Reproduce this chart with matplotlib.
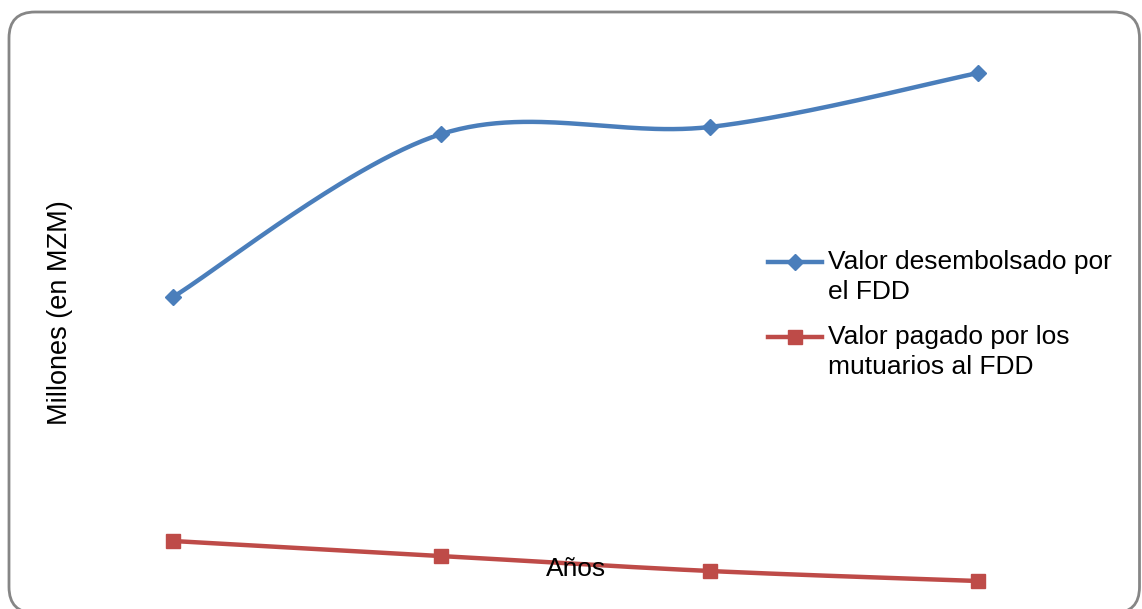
import numpy as np
import matplotlib
matplotlib.use("Agg")
import matplotlib.pyplot as plt
from matplotlib.lines import Line2D
from matplotlib.patches import FancyBboxPatch

plt.rcParams['font.family'] = ['Liberation Sans', 'DejaVu Sans']

# Data (millions of MZM) for four consecutive years
years = [1, 2, 3, 4]
desembolsado = [303, 466, 473, 527]
pagado = [59, 44, 29, 19]

series_labels = ["Valor desembolsado por\nel FDD", "Valor pagado por los\nmutuarios al FDD"]
blue = "#4A7EBB"
red = "#BE4B48"


def smooth(xs, ys, n=60):
    """Catmull-Rom style cubic Bezier smoothing through the points."""
    p = np.column_stack([xs, ys]).astype(float)
    ext = np.vstack([p[0], p, p[-1]])
    out = []
    t = np.linspace(0, 1, n)[:, None]
    for i in range(len(p) - 1):
        p0, p1, p2, p3 = ext[i], ext[i + 1], ext[i + 2], ext[i + 3]
        c1 = p1 + (p2 - p0) / 6.0
        c2 = p2 - (p3 - p1) / 6.0
        seg = ((1 - t) ** 3) * p1 + 3 * ((1 - t) ** 2) * t * c1 + 3 * (1 - t) * t ** 2 * c2 + t ** 3 * p2
        out.append(seg if i == 0 else seg[1:])
    out = np.vstack(out)
    return out[:, 0], out[:, 1]


W, H = 1142, 609
fig = plt.figure(figsize=(W / 100, H / 100), dpi=100)

# Rounded chart frame (inches)
frame = FancyBboxPatch((0.09, -0.04), 11.305, 6.09 - 0.12 + 0.04,
                       boxstyle="round,pad=0,rounding_size=0.26",
                       transform=fig.dpi_scale_trans, facecolor="none",
                       edgecolor="#868686", linewidth=2.0, zorder=-1)
fig.patches.append(frame)

ax = fig.add_axes([173 / W, 0.0, (978 - 173) / W, 1.0])
ax.set_xlim(years[0], years[-1])
ax.set_ylim(-9, 600)
ax.axis("off")

LW = 3.2
sx, sy = smooth(years, desembolsado)
ax.plot(sx, sy, color=blue, lw=LW, clip_on=False, solid_capstyle="round")
ax.plot(years, desembolsado, linestyle="none", marker="D", markersize=8.5,
        color=blue, clip_on=False)

rx, ry = smooth(years, pagado)
ax.plot(rx, ry, color=red, lw=LW, clip_on=False, solid_capstyle="round")
ax.plot(years, pagado, linestyle="none", marker="s", markersize=9.5,
        color=red, clip_on=False)

# Axis titles
fig.text(60 / W, 1 - 313 / H, "Millones (en MZM)", rotation=90, fontsize=19.5,
         ha="center", va="center")
fig.text(576 / W, 1 - 569 / H, "Años", fontsize=19, ha="center", va="center")

# Legend
entries = [(blue, "D", 8.5, 262), (red, "s", 9.5, 337)]
for (col, mk, ms, yy), lab in zip(entries, series_labels):
    yf = 1 - yy / H
    fig.add_artist(Line2D([768 / W, 822 / W], [yf, yf], transform=fig.transFigure,
                          color=col, lw=LW))
    fig.add_artist(Line2D([795 / W], [yf], transform=fig.transFigure,
                          color=col, marker=mk, markersize=ms, linestyle="none"))
    fig.text(828 / W, 1 - (yy - 12) / H, lab, fontsize=19, ha="left", va="top",
             linespacing=1.3)

fig.savefig("out.png", dpi=100)
